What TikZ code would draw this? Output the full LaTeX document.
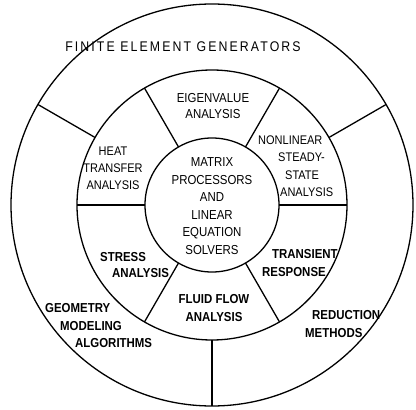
\documentclass[tikz,border=0pt]{standalone}
\usepackage{fontspec}
\setmainfont{Liberation Sans}[FakeStretch=0.88]
\newfontfamily\widefont{Liberation Sans}[FakeStretch=0.88, LetterSpace=15]

\begin{document}
\begin{tikzpicture}[
  x=1pt, y=1pt,
  ring/.style={draw, line width=1.3pt},
  lbl/.style={align=center, inner sep=0pt, font=\fontsize{13}{16}\selectfont},
  lblb/.style={lbl, font=\bfseries\fontsize{13}{17.5}\selectfont}
]
  \useasboundingbox (-212,-205) rectangle (204,205);

  % rings
  \draw[ring] (0,0) circle (201pt);
  \draw[ring] (0,0) circle (135pt);
  \draw[ring] (0,0) circle (67pt);

  % spokes of the middle ring
  \foreach \a in {0,60,...,300}
    \draw[ring] (\a:67pt) -- (\a:135pt);
  % spokes of the outer ring
  \foreach \a in {30,150,270}
    \draw[ring] (\a:135pt) -- (\a:201pt);

  % outer ring
  \node[lbl, font=\widefont\fontsize{14}{16}\selectfont] (feg) at (-29,158) {FINITE ELEMENT GENERATORS};
  \node[lblb, anchor=west, align=left] (geo) at (-167,-121)
    {GEOMETRY\\\hspace*{15pt}MODELING\\\hspace*{30pt}ALGORITHMS};
  \node[lblb, anchor=west, align=left] (red) at (93,-119)
    {\hspace*{7pt}REDUCTION\\METHODS};

  % middle ring
  \node[lbl] (eig) at (1,99) {EIGENVALUE\\ANALYSIS};
  \node[lbl, font=\fontsize{12.5}{17}\selectfont] (heat) at (-99,37) {HEAT\\TRANSFER\\ANALYSIS};
  \node[lbl, anchor=west, align=left, font=\fontsize{12.5}{17.5}\selectfont] (nonlin) at (46,39)
    {NONLINEAR\\\hspace*{20pt}STEADY-\\\hspace*{27pt}STATE\\\hspace*{22pt}ANALYSIS};
  \node[lblb, anchor=west, align=left, font=\bfseries\fontsize{13}{16}\selectfont] (stress) at (-112,-60)
    {STRESS\\\hspace*{12pt}ANALYSIS};
  \node[lblb, anchor=west, align=left] (trans) at (50,-58)
    {\hspace*{10pt}TRANSIENT\\RESPONSE};
  \node[lblb] (fluid) at (2,-103) {FLUID FLOW\\ANALYSIS};

  % centre
  \node[lbl, font=\fontsize{13}{17.6}\selectfont] (matrix) at (0,-1)
    {MATRIX\\PROCESSORS\\AND\\LINEAR\\EQUATION\\SOLVERS};
\end{tikzpicture}
\end{document}
